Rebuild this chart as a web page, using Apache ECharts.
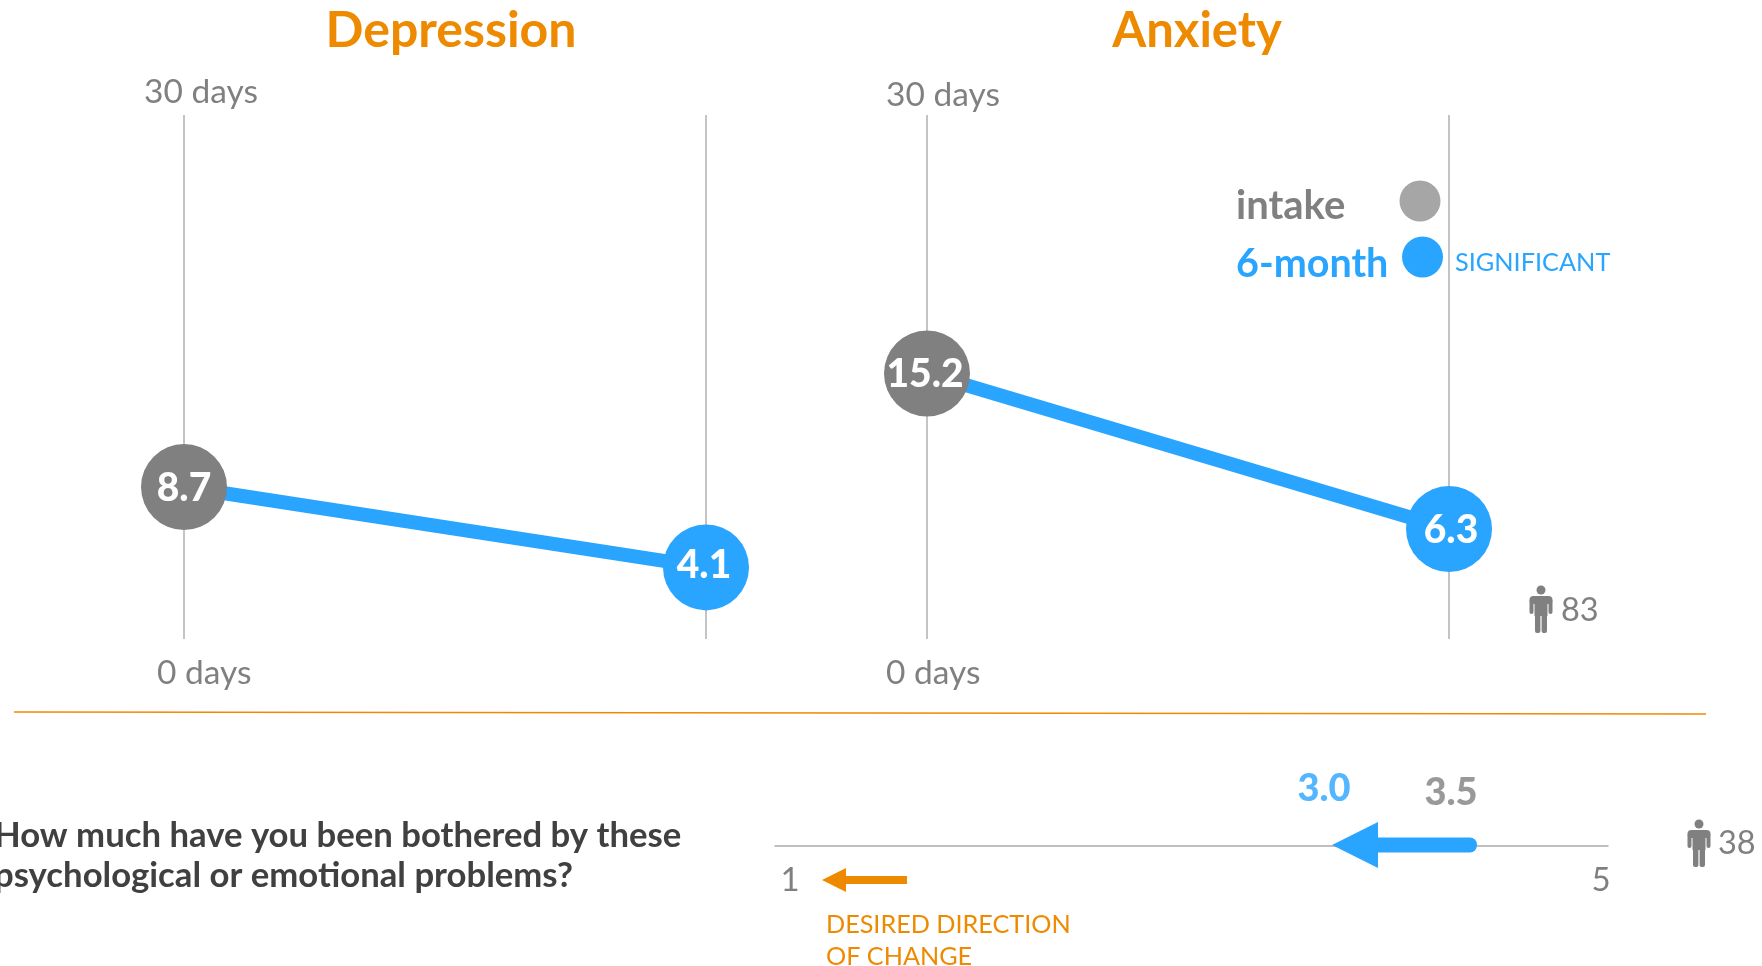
<!DOCTYPE html>
<html>
<head>
<meta charset="utf-8">
<title>Depression and anxiety</title>
<style>
  html, body { margin: 0; padding: 0; background: #fff; }
  #chart { width: 1762px; height: 966px; }
</style>
<script src="https://cdn.jsdelivr.net/npm/echarts@6/dist/echarts.min.js"></script>
</head>
<body>
<div id="chart"></div>
<script>
  var timepoints = ['intake', '6-month'];
  var depression = [8.7, 4.1];
  var anxiety = [15.2, 6.3];
  var scaleFrom = 3.5;
  var scaleTo = 3.0;
  var dayTicks = ['30 days', '0 days'];
  var scaleTicks = ['1', '5'];
  var panelNames = ['Depression', 'Anxiety'];
  var sampleSizes = ['83', '38'];
  var question = 'How much have you been bothered by these\npsychological or emotional problems?';

  var BLUE = '#29a4ff', GREY = '#808080', ORANGE = '#ee8a00', AXIS = '#b0b0b0';
  var FONT = 'Lato';

  function text(x, y, str, size, color, weight, align, extra) {
    return {
      type: 'text', x: x, y: y, silent: true,
      style: Object.assign({
        text: str, fontFamily: FONT, fontSize: size, fill: color,
        fontWeight: weight || 'normal', align: align || 'left', verticalAlign: 'middle'
      }, extra || {})
    };
  }

  // little person icon next to the sample sizes
  function person(x, y) {
    return {
      type: 'group', x: x, y: y, silent: true,
      children: [
        {type: 'circle', shape: {cx: 0, cy: 4, r: 4.5}, style: {fill: GREY}},
        {type: 'rect', shape: {x: -11.5, y: 10, width: 23, height: 8, r: 4}, style: {fill: GREY}},
        {type: 'rect', shape: {x: -6.5, y: 12, width: 13, height: 18}, style: {fill: GREY}},
        {type: 'rect', shape: {x: -11.5, y: 13, width: 4, height: 15, r: 2}, style: {fill: GREY}},
        {type: 'rect', shape: {x: 7.5, y: 13, width: 4, height: 15, r: 2}, style: {fill: GREY}},
        {type: 'rect', shape: {x: -6, y: 26, width: 5.4, height: 21, r: 2}, style: {fill: GREY}},
        {type: 'rect', shape: {x: 0.6, y: 26, width: 5.4, height: 21, r: 2}, style: {fill: GREY}}
      ]
    };
  }

  function panelSeries(values, idx, offsets) {
    return {
      type: 'line',
      xAxisIndex: idx, yAxisIndex: idx,
      clip: false,
      symbol: 'circle',
      symbolSize: 86,
      lineStyle: {color: BLUE, width: 14},
      label: {
        show: true, position: 'inside', color: '#fff',
        fontFamily: FONT, fontWeight: 900, fontSize: 39,
        formatter: function (p) { return p.value.toFixed(1); }
      },
      data: [
        {value: values[0], itemStyle: {color: GREY}, label: {offset: offsets[0]}},
        {value: values[1], itemStyle: {color: BLUE}, label: {offset: offsets[1]}}
      ]
    };
  }

  function panelAxisX(idx) {
    return {
      gridIndex: idx, type: 'category', data: timepoints, boundaryGap: false,
      axisLine: {show: false}, axisTick: {show: false}, axisLabel: {show: false},
      splitLine: {show: true, interval: 0, lineStyle: {color: AXIS, width: 1.5}}
    };
  }

  function panelAxisY(idx) {
    return {
      gridIndex: idx, type: 'value', min: 0, max: 30,
      axisLine: {show: false}, axisTick: {show: false}, axisLabel: {show: false},
      splitLine: {show: false}
    };
  }

  var myChart = echarts.init(document.getElementById('chart'));
  myChart.setOption({
    animation: false,
    backgroundColor: '#fff',
    grid: [
      {left: 184, top: 115, width: 522, height: 524},
      {left: 927, top: 115, width: 522, height: 524},
      {left: 775, top: 796, width: 833, height: 50}
    ],
    xAxis: [
      panelAxisX(0),
      panelAxisX(1),
      {
        // the slide's arrow isn't drawn to its printed 1-5 scale, so this window
        // is fitted to put 3.0 and 3.5 where the slide has them
        gridIndex: 2, type: 'value', min: 1.079, max: 3.952,
        axisLine: {lineStyle: {color: '#aaaaaa', width: 1.5}},
        axisTick: {show: false}, axisLabel: {show: false}, splitLine: {show: false}
      }
    ],
    yAxis: [
      panelAxisY(0),
      panelAxisY(1),
      {gridIndex: 2, type: 'value', min: 0, max: 1, show: false}
    ],
    series: [
      panelSeries(depression, 0, [[0, 1], [-2, -2]]),
      panelSeries(anxiety, 1, [[-2, 1], [2, 1]]),
      {
        type: 'custom',
        xAxisIndex: 2, yAxisIndex: 2,
        clip: false,
        encode: {x: [0, 1]},
        data: [[scaleFrom, scaleTo]],
        renderItem: function (params, api) {
          var tail = api.coord([api.value(0), 0]);
          var tip = api.coord([api.value(1), 0]);
          var y = tail[1] - 1;
          return {
            type: 'group',
            children: [
              {
                type: 'rect',
                shape: {x: tip[0] + 44, y: y - 7.5, width: tail[0] - tip[0] - 44, height: 15, r: [0, 7, 7, 0]},
                style: {fill: BLUE}
              },
              {
                type: 'polygon',
                shape: {points: [[tip[0], y], [tip[0] + 46, y - 23], [tip[0] + 46, y + 23]]},
                style: {fill: BLUE}
              }
            ]
          };
        }
      },
      {
        type: 'scatter',
        xAxisIndex: 2, yAxisIndex: 2,
        clip: false,
        symbolSize: 0,
        label: {
          show: true, position: 'inside',
          fontFamily: FONT, fontWeight: 900, fontSize: 38,
          formatter: function (p) { return p.value[0].toFixed(1); }
        },
        data: [
          {value: [scaleFrom, 0], label: {color: GREY, offset: [-26, -53]}},
          {value: [scaleTo, 0], label: {color: BLUE, offset: [-8, -57]}}
        ]
      }
    ],
    graphic: [
      text(451, 31, panelNames[0], 50, ORANGE, 'bold', 'center'),
      text(1197, 31, panelNames[1], 49, ORANGE, 'bold', 'center'),

      text(144, 92, dayTicks[0], 33.5, GREY),
      text(157, 673, dayTicks[1], 33.5, GREY),
      text(886, 95, dayTicks[0], 33.5, GREY),
      text(886, 673, dayTicks[1], 33.5, GREY),

      // legend
      text(1236, 206, timepoints[0], 40, GREY, 'bold'),
      text(1236, 264, timepoints[1], 39.5, BLUE, 'bold'),
      {type: 'circle', silent: true, shape: {cx: 1420, cy: 201, r: 20.5}, style: {fill: '#a6a6a6'}},
      {type: 'circle', silent: true, shape: {cx: 1422.5, cy: 257, r: 20.5}, style: {fill: BLUE}},
      text(1455, 263, 'SIGNIFICANT', 25.3, BLUE),

      person(1541, 586),
      text(1561, 611, sampleSizes[0], 32.5, GREY),
      person(1699, 820),
      text(1718, 844, sampleSizes[1], 32.5, GREY),

      // divider
      {
        type: 'line', silent: true,
        shape: {x1: 14, y1: 712, x2: 1706, y2: 714},
        style: {stroke: ORANGE, lineWidth: 1.5}
      },

      text(-6, 856, question, 34.7, '#404040', 'bold', 'left', {lineHeight: 40}),

      text(790, 880, scaleTicks[0], 33, GREY, 'normal', 'center'),
      text(1601, 880, scaleTicks[1], 33, GREY, 'normal', 'center'),

      // orange direction arrow
      {
        type: 'polygon', silent: true,
        shape: {points: [[822, 880], [846, 868], [846, 876], [907, 876], [907, 884], [846, 884], [846, 892]]},
        style: {fill: ORANGE}
      },
      text(826, 925, 'DESIRED DIRECTION', 25.2, ORANGE),
      text(826, 957, 'OF CHANGE', 25.2, ORANGE)
    ]
  });
</script>
</body>
</html>
